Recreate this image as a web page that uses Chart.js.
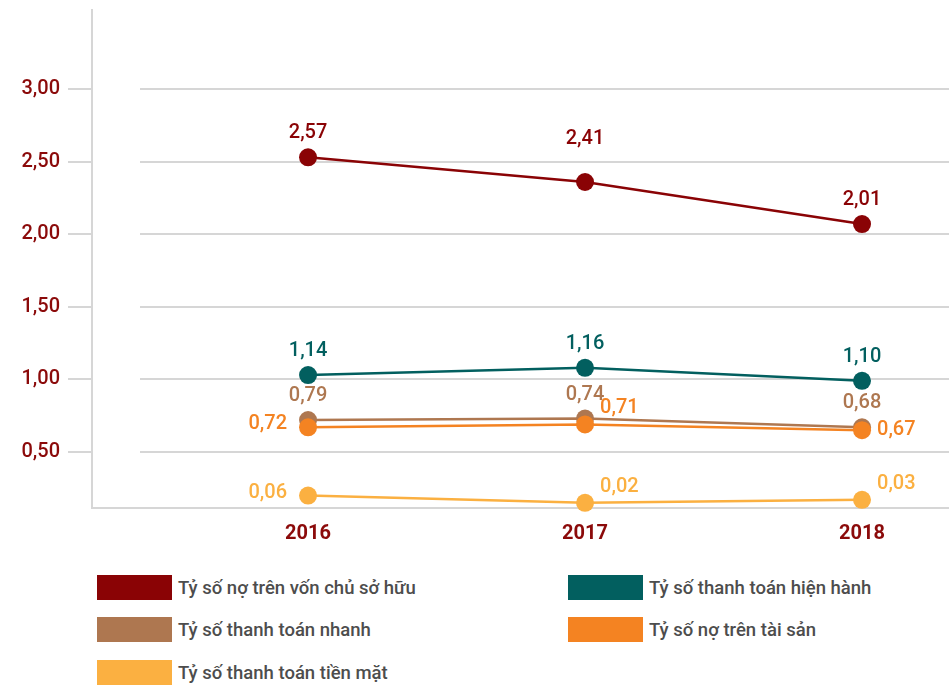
<!DOCTYPE html>
<html>
<head>
<meta charset="utf-8">
<script src="https://cdn.jsdelivr.net/npm/chart.js@4.4.1/dist/chart.umd.min.js"></script>
<style>
  html, body { margin: 0; padding: 0; background: #fff; }
  body { width: 949px; height: 689px; position: relative; overflow: hidden; font-family: Roboto, "Noto Sans", sans-serif; }
  #wrap { position: absolute; left: 0; top: 0; width: 949px; height: 560px; }
  .item { position: absolute; height: 25px; display: flex; align-items: center; color: #4d4d4d; font-size: 18.5px; font-weight: 500; white-space: nowrap; }
  .item span.sw { display: inline-block; width: 75px; height: 25px; margin-right: 6px; }
</style>
</head>
<body>
<div id="wrap"><canvas id="chart"></canvas></div>
<div id="legend"></div>
<script>
// du lieu
const years = [2016, 2017, 2018];
const yTicks = [0.5, 1, 1.5, 2, 2.5, 3];

const noTrenVon = [2.53, 2.36, 2.07];
const hienHanh = [1.03, 1.08, 0.99];
const nhanh = [0.72, 0.73, 0.67];
const noTrenTaiSan = [0.67, 0.69, 0.65];
const tienMat = [0.20, 0.15, 0.17];

// nhan so hien thi tren hinh
const lblNoTrenVon = ['2,57', '2,41', '2,01'];
const lblHienHanh = ['1,14', '1,16', '1,10'];
const lblNhanh = ['0,79', '0,74', '0,68'];
const lblNoTrenTaiSan = ['0,72', '0,71', '0,67'];
const lblTienMat = ['0,06', '0,02', '0,03'];

const series = [
  { name: 'Tỷ số nợ trên vốn chủ sở hữu', data: noTrenVon, labels: lblNoTrenVon, color: '#8a0305', pos: ['top', 'high', 'top'], order: 0 },
  { name: 'Tỷ số thanh toán hiện hành', data: hienHanh, labels: lblHienHanh, color: '#025f5f', pos: ['top', 'top', 'top'], order: 1 },
  { name: 'Tỷ số thanh toán nhanh', data: nhanh, labels: lblNhanh, color: '#ae7750', pos: ['top', 'top', 'top'], order: 3 },
  { name: 'Tỷ số nợ trên tài sản', data: noTrenTaiSan, labels: lblNoTrenTaiSan, color: '#f48322', pos: ['left', 'upright', 'right'], order: 2 },
  { name: 'Tỷ số thanh toán tiền mặt', data: tienMat, labels: lblTienMat, color: '#fbb041', pos: ['left', 'upright', 'upright'], order: 4 }
];

const place = {
  top: { dx: 0, dy: -24, align: 'center' },
  high: { dx: 0, dy: -43, align: 'center' },
  left: { dx: -21, dy: -3, align: 'right' },
  right: { dx: 15, dy: 0, align: 'left' },
  upright: { dx: 15, dy: -16, align: 'left' }
};

const gridColor = '#d6d6d6';
const tickRed = '#8b0a0a';

// duong luoi bat dau cach truc tung mot doan
const innerGrid = {
  id: 'innerGrid',
  beforeDatasetsDraw(chart) {
    const { ctx, chartArea, scales } = chart;
    ctx.save();
    ctx.strokeStyle = gridColor;
    ctx.lineWidth = 2;
    yTicks.forEach(v => {
      const y = Math.round(scales.y.getPixelForValue(v));
      ctx.beginPath();
      ctx.moveTo(chartArea.left + 48, y);
      ctx.lineTo(chartArea.right, y);
      ctx.stroke();
    });
    ctx.restore();
  }
};

const valueLabels = {
  id: 'valueLabels',
  afterDatasetsDraw(chart) {
    const ctx = chart.ctx;
    ctx.save();
    ctx.font = '500 20px Roboto';
    ctx.textBaseline = 'middle';
    series.forEach((s, di) => {
      const meta = chart.getDatasetMeta(di);
      meta.data.forEach((pt, i) => {
        const p = place[s.pos[i]];
        ctx.fillStyle = s.color;
        ctx.textAlign = p.align;
        ctx.fillText(s.labels[i], pt.x + p.dx, pt.y + p.dy);
      });
    });
    ctx.restore();
  }
};

function noPad(sc) {
  sc.paddingTop = 0;
  sc.paddingBottom = 0;
  sc.paddingLeft = 0;
  sc.paddingRight = 0;
}

new Chart(document.getElementById('chart'), {
  type: 'line',
  data: {
    datasets: series.map(s => ({
      label: s.name,
      data: s.data.map((v, i) => ({ x: years[i], y: v })),
      borderColor: s.color,
      backgroundColor: s.color,
      pointBackgroundColor: s.color,
      pointBorderWidth: 0,
      pointRadius: 9,
      borderWidth: 2.5,
      order: s.order,
      clip: false
    }))
  },
  options: {
    responsive: true,
    maintainAspectRatio: false,
    animation: false,
    layout: { autoPadding: false, padding: { top: 10, right: 0, left: 0, bottom: 0 } },
    plugins: { legend: { display: false }, tooltip: { enabled: false } },
    scales: {
      x: {
        type: 'linear',
        min: 2015.22,
        max: 2018.314,
        afterBuildTicks: sc => { sc.ticks = years.map(v => ({ value: v })); },
        afterFit: sc => { sc.height = 52; noPad(sc); },
        grid: { display: false, drawTicks: false },
        border: { display: true, color: gridColor, width: 2 },
        ticks: {
          padding: 14,
          color: tickRed,
          font: { family: 'Roboto', size: 20, weight: 'bold' },
          callback: v => String(v)
        }
      },
      y: {
        min: 0.114,
        max: 3.545,
        afterBuildTicks: sc => { sc.ticks = yTicks.map(v => ({ value: v })); },
        afterFit: sc => { sc.width = 92; noPad(sc); },
        grid: { drawOnChartArea: false, drawTicks: true, tickLength: 24, color: gridColor, lineWidth: 2 },
        border: { display: true, color: gridColor, width: 2 },
        ticks: {
          padding: 8,
          color: tickRed,
          font: { family: 'Roboto', size: 20, weight: '500' },
          callback: v => v.toFixed(2).replace('.', ',')
        }
      }
    }
  },
  plugins: [innerGrid, valueLabels]
});

// chu giai
const legendPos = [
  { left: 97, top: 575 },
  { left: 568, top: 575 },
  { left: 97, top: 617 },
  { left: 568, top: 617 },
  { left: 97, top: 660 }
];
const legend = document.getElementById('legend');
series.forEach((s, i) => {
  const d = document.createElement('div');
  d.className = 'item';
  d.style.left = legendPos[i].left + 'px';
  d.style.top = legendPos[i].top + 'px';
  d.innerHTML = `<span class="sw" style="background:${s.color}"></span>${s.name}`;
  legend.appendChild(d);
});
</script>
</body>
</html>
